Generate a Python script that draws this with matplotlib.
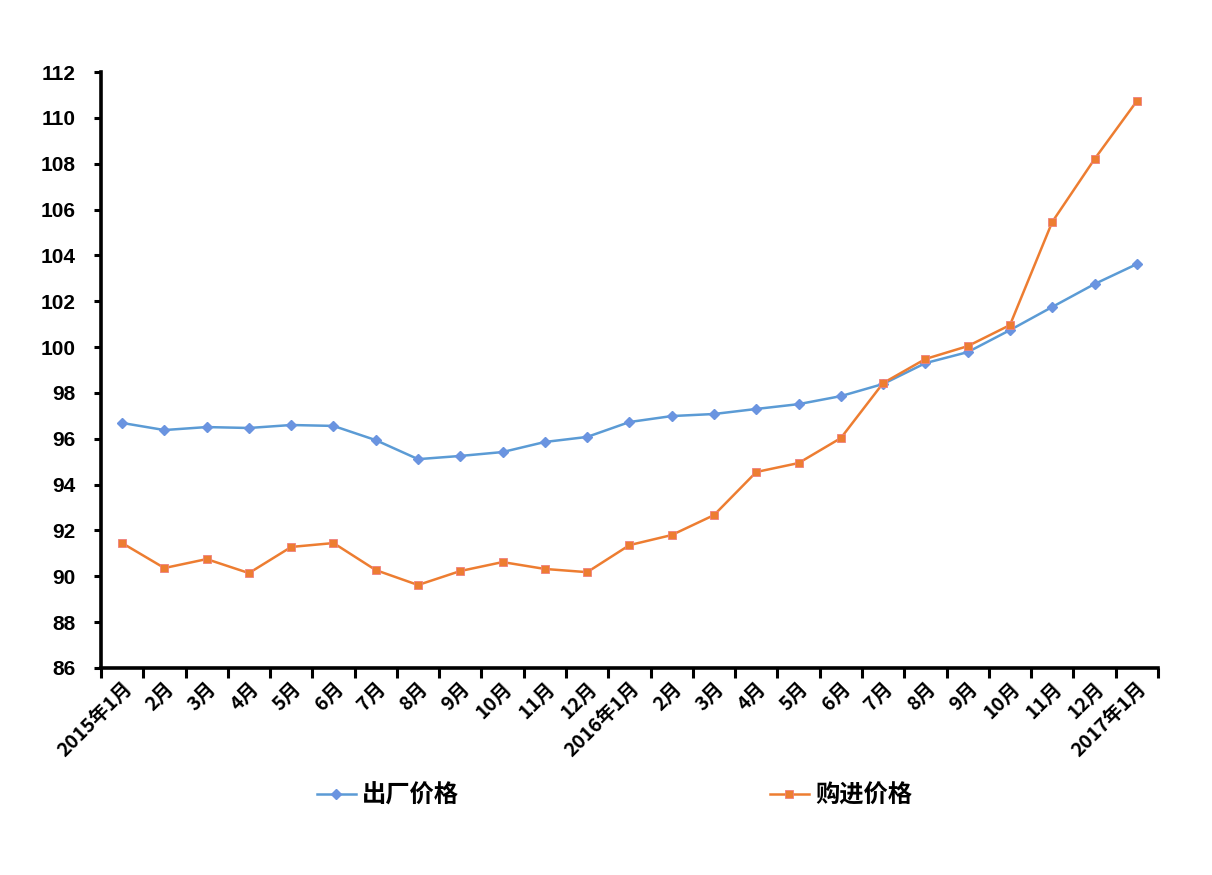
from matplotlib import pyplot as plt
import numpy as np

plt.rcParams['font.family'] = ['Noto Sans CJK SC', 'DejaVu Sans']

months = ['2015年1月', '2月', '3月', '4月', '5月', '6月', '7月', '8月', '9月', '10月', '11月', '12月',
          '2016年1月', '2月', '3月', '4月', '5月', '6月', '7月', '8月', '9月', '10月', '11月', '12月',
          '2017年1月']
chuchang = [96.69, 96.38, 96.51, 96.47, 96.60, 96.56, 95.94, 95.11, 95.25, 95.42, 95.86, 96.08,
            96.73, 96.99, 97.08, 97.30, 97.51, 97.86, 98.39, 99.30, 99.78, 100.74, 101.75, 102.75,
            103.62]
goujin = [91.45, 90.36, 90.75, 90.14, 91.28, 91.45, 90.27, 89.62, 90.23, 90.62, 90.32, 90.18,
          91.36, 91.80, 92.67, 94.55, 94.94, 96.03, 98.43, 99.48, 100.04, 100.96, 105.46, 108.20,
          110.73]


def main():
    fig = plt.figure(figsize=(12.12, 8.75), dpi=100)
    ax = fig.add_axes([0.0833, 0.2366, 0.8721, 0.6811])

    x = np.arange(len(months))
    ax.plot(x, chuchang, color='#5B9BD5', lw=1.8, marker='D', ms=5.5,
            mfc='#6A94E0', mec='#6A94E0', label='出厂价格')
    ax.plot(x, goujin, color='#ED7D31', lw=1.8, marker='s', ms=6,
            mfc='#ED7D31', mec='#F08080', mew=0.6, label='购进价格')

    ax.set_xlim(-0.5, len(months) - 0.5)
    ax.set_ylim(86, 112)
    ax.set_yticks(np.arange(86, 113, 2))

    ax.set_xticks(np.arange(-0.5, len(months), 1.0))
    ax.set_xticklabels([])
    ax.set_xticks(x, minor=True)
    ax.set_xticklabels(months, minor=True, rotation=45, ha='right',
                       rotation_mode='anchor', fontsize=14, fontweight='bold')
    ax.tick_params(axis='x', which='major', length=7, width=2.2, direction='out')
    ax.tick_params(axis='x', which='minor', length=0, pad=8)
    ax.tick_params(axis='y', length=5, width=2.2, direction='out', pad=13)
    for lbl in ax.get_yticklabels():
        lbl.set_fontweight('bold')
        lbl.set_family(['Liberation Sans', 'DejaVu Sans'])
        lbl.set_fontsize(15)

    for s in ['top', 'right']:
        ax.spines[s].set_visible(False)
    for s in ['left', 'bottom']:
        ax.spines[s].set_linewidth(2.6)

    fig.legend(loc='center', bbox_to_anchor=(0.507, 0.091), ncol=2, frameon=False,
               prop={'size': 17.5, 'weight': 'bold'}, columnspacing=12.8,
               handlelength=1.6, handletextpad=0.25)

    fig.savefig('out.png', dpi=100)


if __name__ == "__main__":
    main()
